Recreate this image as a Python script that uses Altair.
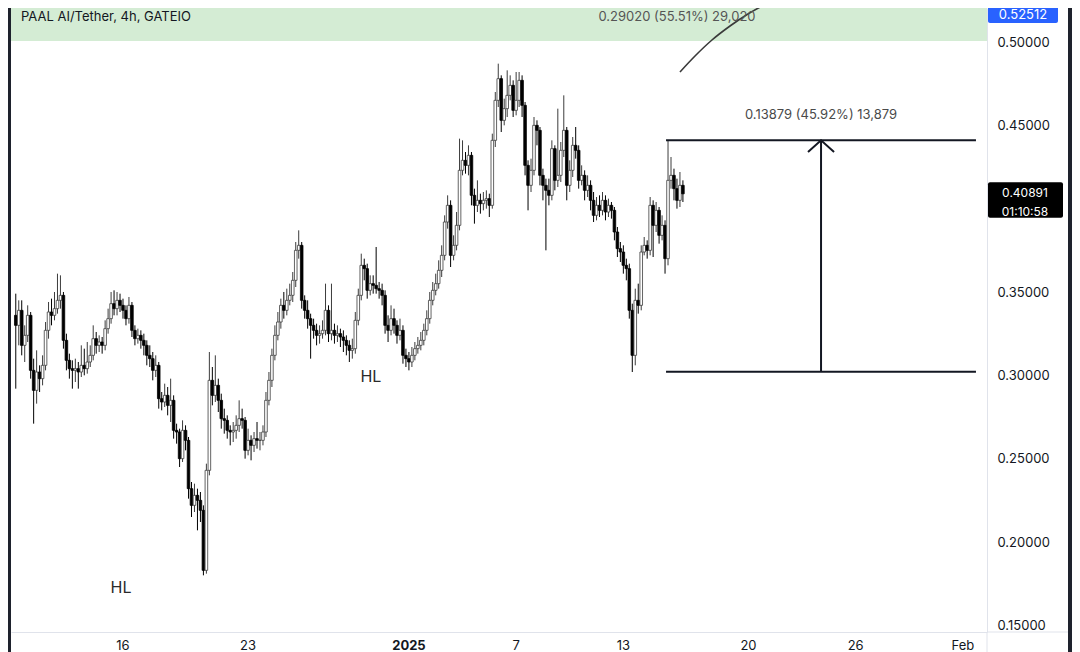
import altair as alt
import pandas as pd

# ---------------- data ----------------
first_open = 0.336
close = [
    0.330, 0.339, 0.318, 0.324, 0.336, 0.303, 0.291, 0.302, 0.298, 0.306,
    0.327, 0.338, 0.336, 0.340, 0.345, 0.348, 0.321, 0.309, 0.304, 0.303,
    0.304, 0.302, 0.306, 0.304, 0.308, 0.312, 0.322, 0.318, 0.320, 0.318,
    0.328, 0.334, 0.343, 0.340, 0.345, 0.342, 0.339, 0.334, 0.342, 0.327,
    0.322, 0.324, 0.321, 0.318, 0.312, 0.310, 0.303, 0.306, 0.286, 0.284,
    0.288, 0.282, 0.285, 0.267, 0.266, 0.250, 0.267, 0.261, 0.232, 0.222,
    0.228, 0.225, 0.219, 0.183, 0.243, 0.297, 0.288, 0.294, 0.285, 0.274,
    0.273, 0.267, 0.266, 0.267, 0.270, 0.274, 0.273, 0.255, 0.261, 0.258,
    0.262, 0.261, 0.261, 0.266, 0.285, 0.297, 0.312, 0.324, 0.332, 0.342,
    0.339, 0.345, 0.348, 0.357, 0.375, 0.378, 0.345, 0.339, 0.334, 0.330,
    0.327, 0.324, 0.325, 0.327, 0.339, 0.325, 0.327, 0.324, 0.325, 0.323,
    0.321, 0.318, 0.315, 0.316, 0.333, 0.348, 0.366, 0.364, 0.351, 0.355,
    0.354, 0.352, 0.351, 0.348, 0.330, 0.327, 0.334, 0.330, 0.324, 0.327,
    0.312, 0.310, 0.308, 0.312, 0.316, 0.318, 0.321, 0.327, 0.334, 0.345,
    0.351, 0.355, 0.363, 0.372, 0.392, 0.402, 0.372, 0.378, 0.390, 0.423,
    0.429, 0.426, 0.432, 0.408, 0.402, 0.405, 0.403, 0.405, 0.406, 0.402,
    0.441, 0.465, 0.478, 0.453, 0.460, 0.468, 0.474, 0.459, 0.465, 0.477,
    0.462, 0.426, 0.414, 0.423, 0.450, 0.447, 0.420, 0.414, 0.411, 0.408,
    0.436, 0.417, 0.420, 0.435, 0.447, 0.414, 0.423, 0.438, 0.435, 0.417,
    0.420, 0.411, 0.414, 0.405, 0.396, 0.402, 0.399, 0.405, 0.398, 0.402,
    0.399, 0.386, 0.376, 0.374, 0.366, 0.364, 0.339, 0.312, 0.345, 0.342,
    0.374, 0.378, 0.375, 0.402, 0.390, 0.399, 0.384, 0.390, 0.370, 0.417,
    0.420, 0.412, 0.405, 0.414, 0.40891,
]
high = [
    0.349, 0.345, 0.345, 0.330, 0.342, 0.338, 0.310, 0.315, 0.306, 0.312,
    0.332, 0.344, 0.346, 0.350, 0.361, 0.360, 0.350, 0.325, 0.313, 0.309,
    0.310, 0.308, 0.318, 0.316, 0.320, 0.318, 0.330, 0.326, 0.324, 0.323,
    0.333, 0.340, 0.350, 0.351, 0.350, 0.349, 0.346, 0.342, 0.347, 0.344,
    0.330, 0.328, 0.327, 0.325, 0.321, 0.318, 0.314, 0.312, 0.308, 0.290,
    0.295, 0.293, 0.298, 0.288, 0.271, 0.268, 0.273, 0.270, 0.263, 0.236,
    0.235, 0.232, 0.230, 0.222, 0.247, 0.314, 0.305, 0.312, 0.298, 0.289,
    0.280, 0.276, 0.270, 0.272, 0.276, 0.285, 0.280, 0.275, 0.268, 0.264,
    0.266, 0.272, 0.266, 0.270, 0.290, 0.302, 0.316, 0.330, 0.338, 0.346,
    0.350, 0.352, 0.355, 0.362, 0.380, 0.387, 0.380, 0.348, 0.345, 0.337,
    0.334, 0.331, 0.330, 0.333, 0.355, 0.342, 0.355, 0.331, 0.330, 0.328,
    0.327, 0.324, 0.321, 0.322, 0.338, 0.352, 0.373, 0.370, 0.367, 0.360,
    0.360, 0.377, 0.356, 0.355, 0.351, 0.336, 0.342, 0.340, 0.333, 0.334,
    0.330, 0.316, 0.314, 0.317, 0.320, 0.323, 0.326, 0.331, 0.339, 0.350,
    0.356, 0.361, 0.369, 0.378, 0.396, 0.408, 0.405, 0.384, 0.398, 0.442,
    0.441, 0.434, 0.438, 0.434, 0.412, 0.417, 0.409, 0.410, 0.411, 0.409,
    0.445, 0.470, 0.487, 0.480, 0.466, 0.483, 0.480, 0.477, 0.482, 0.482,
    0.480, 0.464, 0.429, 0.430, 0.455, 0.453, 0.449, 0.424, 0.418, 0.418,
    0.441, 0.438, 0.460, 0.440, 0.468, 0.449, 0.429, 0.443, 0.449, 0.438,
    0.426, 0.423, 0.420, 0.417, 0.410, 0.407, 0.408, 0.410, 0.408, 0.406,
    0.404, 0.401, 0.389, 0.380, 0.378, 0.370, 0.367, 0.343, 0.352, 0.355,
    0.378, 0.383, 0.381, 0.407, 0.405, 0.404, 0.401, 0.396, 0.393, 0.441,
    0.431, 0.424, 0.418, 0.422, 0.417,
]
low = [
    0.292, 0.318, 0.312, 0.308, 0.320, 0.298, 0.271, 0.283, 0.290, 0.294,
    0.303, 0.322, 0.330, 0.333, 0.337, 0.340, 0.316, 0.303, 0.298, 0.292,
    0.296, 0.292, 0.299, 0.300, 0.301, 0.305, 0.309, 0.313, 0.314, 0.313,
    0.315, 0.325, 0.331, 0.336, 0.336, 0.338, 0.334, 0.330, 0.331, 0.323,
    0.318, 0.319, 0.316, 0.312, 0.306, 0.305, 0.297, 0.299, 0.280, 0.279,
    0.281, 0.276, 0.272, 0.262, 0.259, 0.245, 0.248, 0.255, 0.226, 0.215,
    0.218, 0.207, 0.212, 0.180, 0.181, 0.240, 0.282, 0.284, 0.278, 0.268,
    0.265, 0.262, 0.258, 0.260, 0.262, 0.266, 0.268, 0.250, 0.252, 0.249,
    0.254, 0.256, 0.255, 0.258, 0.263, 0.282, 0.293, 0.309, 0.321, 0.328,
    0.334, 0.336, 0.342, 0.344, 0.353, 0.370, 0.340, 0.334, 0.328, 0.310,
    0.322, 0.318, 0.319, 0.322, 0.324, 0.320, 0.321, 0.319, 0.320, 0.317,
    0.314, 0.312, 0.308, 0.310, 0.313, 0.330, 0.345, 0.357, 0.346, 0.348,
    0.349, 0.349, 0.346, 0.342, 0.325, 0.320, 0.324, 0.325, 0.319, 0.321,
    0.307, 0.305, 0.303, 0.305, 0.309, 0.313, 0.315, 0.318, 0.324, 0.331,
    0.342, 0.348, 0.352, 0.359, 0.369, 0.388, 0.365, 0.369, 0.375, 0.387,
    0.420, 0.421, 0.420, 0.402, 0.391, 0.398, 0.397, 0.399, 0.400, 0.395,
    0.400, 0.437, 0.461, 0.446, 0.450, 0.455, 0.465, 0.455, 0.456, 0.461,
    0.455, 0.420, 0.399, 0.410, 0.420, 0.438, 0.414, 0.405, 0.375, 0.402,
    0.405, 0.411, 0.413, 0.416, 0.431, 0.405, 0.410, 0.419, 0.430, 0.412,
    0.414, 0.405, 0.407, 0.399, 0.392, 0.393, 0.395, 0.396, 0.393, 0.395,
    0.394, 0.381, 0.371, 0.368, 0.361, 0.357, 0.334, 0.302, 0.306, 0.337,
    0.339, 0.372, 0.370, 0.372, 0.371, 0.386, 0.379, 0.381, 0.361, 0.366,
    0.412, 0.405, 0.400, 0.401, 0.404,
]

y_ticks = [0.15, 0.20, 0.25, 0.30, 0.35, 0.40, 0.45, 0.50]
x_tick_dates = ["2024-12-16T00:00:00", "2024-12-23T00:00:00", "2025-01-01T00:00:00",
                "2025-01-07T00:00:00", "2025-01-13T00:00:00", "2025-01-20T00:00:00",
                "2025-01-26T00:00:00", "2025-02-01T00:00:00"]
x_tick_labels = ["16", "23", "2025", "7", "13", "20", "26", "Feb"]

# measurement tool
measure_low = 0.30220
measure_high = 0.44099
measure_start = "2025-01-15T09:20:00"
measure_end = "2025-02-01T17:35:00"
arrow_date = "2025-01-24T01:30:00"
arrowhead_dates = ["2025-01-23T08:00:00", "2025-01-24T01:30:00", "2025-01-24T19:00:00"]
arrowhead_prices = [0.4340, measure_high, 0.4340]
measure_text = "0.13879 (45.92%) 13,879"
measure_text_price = 0.4562

# upper (off-screen) measurement
top_band_low = 0.5006
top_text = "0.29020 (55.51%) 29,020"
top_text_date = "2025-01-16T00:00:00"
top_text_price = 0.515
curve_dates = ["2025-01-16T04:00:00", "2025-01-17T00:15:00", "2025-01-17T23:00:00",
               "2025-01-18T23:15:00", "2025-01-19T23:20:00", "2025-01-20T23:30:00",
               "2025-01-21T18:30:00"]
curve_prices = [0.482, 0.4916, 0.5012, 0.5096, 0.5168, 0.5228, 0.527]

title_text = "PAAL AI/Tether, 4h, GATEIO"
title_date = "2024-12-10T07:00:00"
title_price = 0.515

hl_dates = ["2024-12-15T21:20:00", "2024-12-29T21:00:00"]
hl_prices = [0.1724, 0.299]

top_price_label = "0.52512"
last_price_label = "0.40891"
countdown_label = "01:10:58"

# ---------------- frames ----------------
times = pd.date_range("2024-12-10 00:00", periods=len(close), freq="4h")
opens = [first_open] + close[:-1]
df = pd.DataFrame({
    "t": times.strftime("%Y-%m-%dT%H:%M:%S"),
    "open": opens, "close": close, "high": high, "low": low,
})
df["dir"] = ["up" if c >= o else "down" for o, c in zip(opens, close)]

W, H = 976, 624
x_domain = ["2024-12-09T17:35:00", "2025-02-02T08:24:00"]
y_domain = [0.1460, 0.5204]
FONT = "Inter"
TXT = "#131722"
LINE = "#e0e3eb"
UPC = "#3c3c3c"

xs = alt.Scale(domain=x_domain, padding=0, nice=False)
ys = alt.Scale(domain=y_domain, nice=False, zero=False, padding=0)
xaxis = alt.Axis(labels=False, ticks=False, grid=False, domainColor=LINE, title=None)
yaxis = alt.Axis(orient="right", values=y_ticks, format=".5f", ticks=False, grid=False,
                 domainColor=LINE, labelPadding=10, labelFontSize=13, labelColor=TXT,
                 labelFont=FONT, title=None)


def X(f):
    return alt.X(f, type="temporal", scale=xs, axis=xaxis)


def Y(f):
    return alt.Y(f, type="quantitative", scale=ys, axis=yaxis)


band = alt.Chart(pd.DataFrame({"t0": [x_domain[0]], "t1": [x_domain[1]],
                               "p0": [top_band_low], "p1": [0.54]})).mark_rect(
    color="#d4ecd4", clip=True).encode(x=X("t0"), x2="t1:T", y=Y("p0"), y2="p1:Q")

wicks = alt.Chart(df).mark_rule(strokeWidth=1).encode(
    x=X("t"), y=Y("low"), y2="high:Q",
    color=alt.Color("dir:N", scale=alt.Scale(domain=["up", "down"], range=[UPC, "#000000"]),
                    legend=None))

bodies = alt.Chart(df).mark_bar(size=2.6, strokeWidth=0.8).encode(
    x=X("t"), y=Y("open"), y2="close:Q",
    fill=alt.Fill("dir:N", scale=alt.Scale(domain=["up", "down"], range=["#ffffff", "#000000"]),
                  legend=None),
    stroke=alt.Stroke("dir:N", scale=alt.Scale(domain=["up", "down"], range=[UPC, "#000000"]),
                      legend=None))

mdf = pd.DataFrame({"t0": [measure_start, measure_start], "t1": [measure_end, measure_end],
                    "p": [measure_high, measure_low]})
mlines = alt.Chart(mdf).mark_rule(strokeWidth=2, color=TXT).encode(
    x=X("t0"), x2="t1:T", y=Y("p"))

arrow = alt.Chart(pd.DataFrame({"t": [arrow_date], "p0": [measure_low], "p1": [measure_high]})).mark_rule(
    strokeWidth=2, color=TXT).encode(x=X("t"), y=Y("p0"), y2="p1:Q")

ahead = alt.Chart(pd.DataFrame({"t": arrowhead_dates, "p": arrowhead_prices, "o": [0, 1, 2]})).mark_line(
    strokeWidth=2, color=TXT).encode(x=X("t"), y=Y("p"), order="o:Q")

curve = alt.Chart(pd.DataFrame({"t": curve_dates, "p": curve_prices, "o": list(range(len(curve_dates)))})).mark_line(
    strokeWidth=1.6, color="#3a3a3a", interpolate="monotone").encode(x=X("t"), y=Y("p"), order="o:Q")

mtext = alt.Chart(pd.DataFrame({"t": [arrow_date], "p": [measure_text_price], "s": [measure_text]})).mark_text(
    font=FONT, fontSize=13, color="#4a4a4a", baseline="middle").encode(x=X("t"), y=Y("p"), text="s:N")

ttext = alt.Chart(pd.DataFrame({"t": [top_text_date], "p": [top_text_price], "s": [top_text]})).mark_text(
    font=FONT, fontSize=13, color="#555555", baseline="middle").encode(x=X("t"), y=Y("p"), text="s:N")

title = alt.Chart(pd.DataFrame({"t": [title_date], "p": [title_price], "s": [title_text]})).mark_text(
    font=FONT, fontSize=13, color=TXT, align="left", baseline="middle").encode(x=X("t"), y=Y("p"), text="s:N")

hl = alt.Chart(pd.DataFrame({"t": hl_dates, "p": hl_prices, "s": ["HL", "HL"]})).mark_text(
    font=FONT, fontSize=16, color="#2a2a2a", baseline="middle").encode(x=X("t"), y=Y("p"), text="s:N")

# x axis labels (from the tick lists)
xl = pd.DataFrame({"t": x_tick_dates, "s": x_tick_labels})
xlab = alt.Chart(xl).transform_filter(alt.datum.s != "2025").mark_text(
    font=FONT, fontSize=13, color=TXT, baseline="middle").encode(x=X("t"), y=alt.value(H + 14), text="s:N")
xlab_b = alt.Chart(xl).transform_filter(alt.datum.s == "2025").mark_text(
    font=FONT, fontSize=13, fontWeight="bold", color=TXT, baseline="middle").encode(
    x=X("t"), y=alt.value(H + 14), text="s:N")

# price axis badges
blue_box = alt.Chart(pd.DataFrame({"p0": [0.5228], "p1": [0.5114]})).mark_rect(
    color="#2962ff", cornerRadius=2).encode(x=alt.value(977), x2=alt.value(1047), y=Y("p0"), y2="p1:Q")
blue_txt = alt.Chart(pd.DataFrame({"p": [0.5160], "s": [top_price_label]})).mark_text(
    font=FONT, fontSize=13, color="#ffffff", baseline="middle").encode(x=alt.value(1012), y=Y("p"), text="s:N")
black_box = alt.Chart(pd.DataFrame({"p0": [0.4158], "p1": [0.3946]})).mark_rect(
    color="#000000", cornerRadius=2).encode(x=alt.value(977), x2=alt.value(1052), y=Y("p0"), y2="p1:Q")
black_txt = alt.Chart(pd.DataFrame({"p": [0.4096, 0.3983], "s": [last_price_label, countdown_label]})).mark_text(
    font=FONT, fontSize=12, color="#ffffff", baseline="middle").encode(x=alt.value(1014), y=Y("p"), text="s:N")

# frame lines / dark screenshot edges
vline = alt.Chart(pd.DataFrame({"a": [0]})).mark_rule(color=LINE).encode(
    x=alt.value(W), y=alt.value(H), y2=alt.value(H + 30))
hline = alt.Chart(pd.DataFrame({"a": [0]})).mark_rule(color=LINE).encode(
    x=alt.value(W), x2=alt.value(W + 81), y=alt.value(H))
edge_l = alt.Chart(pd.DataFrame({"a": [0]})).mark_rect(color="#1e222d").encode(
    x=alt.value(-3), x2=alt.value(0), y=alt.value(-5), y2=alt.value(H + 30))
edge_r = alt.Chart(pd.DataFrame({"a": [0]})).mark_rect(color="#1e222d").encode(
    x=alt.value(1057), x2=alt.value(1062), y=alt.value(-5), y2=alt.value(H + 30))

chart = alt.layer(
    band, wicks, bodies, mlines, arrow, ahead, curve, mtext, ttext, title, hl,
    xlab, xlab_b, blue_box, blue_txt, black_box, black_txt, vline, hline, edge_l, edge_r,
).properties(
    width=W, height=H,
    padding={"left": 3, "right": 85, "top": 0, "bottom": 20},
    autosize=alt.AutoSizeParams(type="none"),
    background="#ffffff",
).configure_view(stroke=None)

chart.save("out.html", embed_options={"renderer": "svg", "actions": False})
